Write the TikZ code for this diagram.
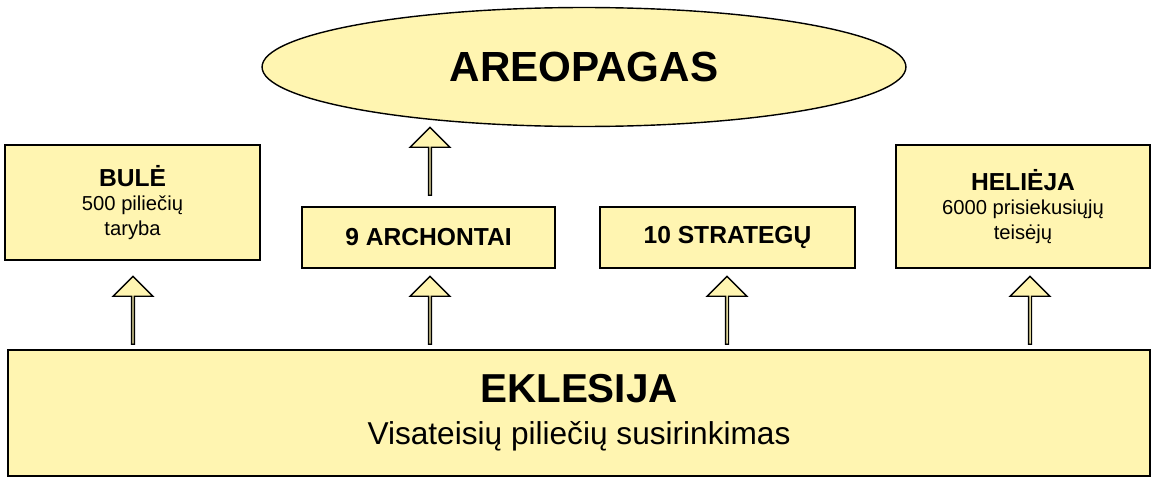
\documentclass[tikz,border=0pt]{standalone}
\usepackage{fontspec}
\setmainfont{Liberation Sans}
\usetikzlibrary{shapes.geometric,shapes.arrows,positioning}
\definecolor{pale}{HTML}{FFF5B1}
\tikzset{
  box/.style = {draw, fill = pale, line width = 0.8pt, inner sep = 0pt, align = center},
  up/.style = {draw, fill = pale, line width = 0.8pt, single arrow, shape border rotate = 90,
    minimum width = 0.8cm, single arrow head extend = 0.18cm, single arrow head indent = 0cm,
    minimum height = 1.36cm, inner sep = 0pt}
}
\begin{document}
\begin{tikzpicture}[x = 0.02cm, y = -0.02cm]
\useasboundingbox (0,0) rectangle (1154,480);
\node[box, ellipse, minimum width = 12.88cm, minimum height = 2.38cm, font = \fontsize{24}{28}\selectfont\bfseries] (areo) at (584,67) {AREOPAGAS};
\node[box, minimum width = 5.1cm, minimum height = 2.3cm, font = \fontsize{11.5}{14}\selectfont] (bule) at (132.5,202.5) {{\fontsize{14}{17}\selectfont\bfseries BULĖ}\\500 piliečių\\taryba};
\node[box, minimum width = 5.06cm, minimum height = 1.22cm, font = \fontsize{14}{17}\selectfont\bfseries] (arch) at (428.5,237.5) {9 ARCHONTAI};
\node[box, minimum width = 5.1cm, minimum height = 1.22cm, font = \fontsize{14}{17}\selectfont\bfseries] (strat) at (727.5,237.5) {10 STRATEGŲ};
\node[box, minimum width = 5.08cm, minimum height = 2.46cm, font = \fontsize{11.5}{14}\selectfont] (heli) at (1023,206.5) {{\fontsize{14}{17}\selectfont\bfseries HELIĖJA}\\6000 prisiekusiųjų\\teisėjų};
\node[box, minimum width = 22.84cm, minimum height = 2.52cm, font = \fontsize{18}{24}\selectfont] (ekl) at (579,413) {{\fontsize{23}{28}\selectfont\bfseries EKLESIJA}\\Visateisių piliečių susirinkimas};
% arrows
\node[up] (a1) at (133,311) {};
\node[up] (a2) at (430,311) {};
\node[up] (a3) at (727,311) {};
\node[up] (a4) at (1030,311) {};
\node[up] (a5) at (430,162) {};
\end{tikzpicture}
\end{document}
